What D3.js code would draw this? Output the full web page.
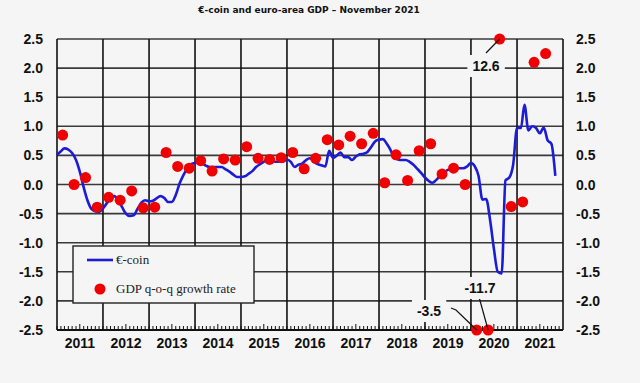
<!DOCTYPE html>
<html>
<head>
<meta charset="utf-8">
<script src="https://cdn.jsdelivr.net/npm/d3@7"></script>
<style>
  html, body { margin: 0; padding: 0; background: #f5f5f5; }
  svg { display: block; }
</style>
</head>
<body>
<div id="chart"></div>
<script>
// €-coin, monthly, from Jan 2011 to Nov 2021
const coinStart = [2011, 0];
const coinValues = [
  0.51, 0.57, 0.62, 0.60, 0.54, 0.42, 0.22, -0.05, -0.28, -0.42, -0.46, -0.47,
  -0.41, -0.32, -0.24, -0.20, -0.27, -0.39, -0.50, -0.54, -0.53, -0.42, -0.31, -0.27,
  -0.29, -0.28, -0.24, -0.20, -0.23, -0.30, -0.30, -0.18, 0.02, 0.16, 0.28, 0.35,
  0.37, 0.40, 0.36, 0.32, 0.30, 0.30, 0.30, 0.30, 0.26, 0.22, 0.17, 0.13,
  0.13, 0.14, 0.18, 0.23, 0.30, 0.35, 0.39, 0.42, 0.41, 0.39, 0.39, 0.39,
  0.43, 0.39, 0.30, 0.34, 0.36, 0.42, 0.45, 0.39, 0.35, 0.33, 0.31, 0.58,
  0.46, 0.50, 0.55, 0.47, 0.47, 0.42, 0.48, 0.52, 0.53, 0.56, 0.65, 0.74,
  0.77, 0.78, 0.71, 0.60, 0.46, 0.43, 0.42, 0.42, 0.39, 0.34, 0.27, 0.20,
  0.12, 0.06, 0.03, 0.08, 0.15, 0.20, 0.25, 0.27, 0.28, 0.28, 0.28, 0.31,
  0.37, 0.31, 0.15, -0.26, -0.25, -0.61, -1.10, -1.50, -1.53, 0.07, 0.12, 0.34,
  0.97, 0.97, 1.37, 0.93, 1.00, 0.97, 0.88, 0.98, 0.76, 0.70, 0.15
];

// GDP q-o-q growth rate, quarterly, from 2011 Q1 to 2021 Q3
const gdpStart = 2011;
const gdpValues = [
  0.85, 0.00, 0.12, -0.39,
  -0.22, -0.27, -0.11, -0.40,
  -0.39, 0.55, 0.31, 0.28,
  0.41, 0.23, 0.44, 0.42,
  0.65, 0.45, 0.43, 0.46,
  0.55, 0.27, 0.45, 0.77,
  0.68, 0.83, 0.70, 0.88,
  0.03, 0.51, 0.07, 0.58,
  0.70, 0.18, 0.28, 0.00,
  -3.5, -11.7, 12.6, -0.38,
  -0.30, 2.10, 2.25
];

const yearLabels = ['2011', '2012', '2013', '2014', '2015', '2016', '2017', '2018', '2019', '2020', '2021'];
const yTicks = [-2.5, -2.0, -1.5, -1.0, -0.5, 0.0, 0.5, 1.0, 1.5, 2.0, 2.5];
const title = '€-coin and euro-area GDP \u2013 November 2021';
const legendLabels = ['€-coin', 'GDP q-o-q growth rate'];

const W = 640, H = 383;
const BG = '#f5f5f5';
const BLUE = '#1c1cd6';
const RED = '#f00000';
const plot = { left: 57, right: 563, top: 39, bottom: 330 };

const svg = d3.select('#chart').append('svg')
  .attr('width', W).attr('height', H)
  .style('background', BG);

const x = d3.scaleTime()
  .domain([new Date(+yearLabels[0], 0, 1), new Date(+yearLabels.at(-1) + 1, 0, 1)])
  .range([plot.left, plot.right]);
const y = d3.scaleLinear()
  .domain([yTicks[0], yTicks.at(-1)])
  .range([plot.bottom, plot.top]);

// plain hyphen for negatives, like the original
const fmt = d3.formatLocale({ decimal: '.', thousands: ',', grouping: [3], currency: ['', ''], minus: '-' }).format('.1f');

// title
svg.append('text')
  .attr('x', 309).attr('y', 13)
  .attr('text-anchor', 'middle')
  .style('font-family', 'DejaVu Sans, Verdana, sans-serif')
  .style('font-weight', 'bold')
  .style('font-size', '9px')
  .style('fill', '#111')
  .text(title);

// grid
const grid = svg.append('g');
grid.selectAll('line.h')
  .data(yTicks)
  .join('line')
  .attr('x1', plot.left).attr('x2', plot.right)
  .attr('y1', d => y(d)).attr('y2', d => y(d))
  .attr('stroke', '#3a3a3a').attr('stroke-width', 1.6);

const yearBounds = d3.range(yearLabels.length + 1).map(i => new Date(+yearLabels[0] + i, 0, 1));
grid.selectAll('line.v')
  .data(yearBounds)
  .join('line')
  .attr('x1', d => x(d)).attr('x2', d => x(d))
  .attr('y1', plot.top).attr('y2', plot.bottom)
  .attr('stroke', '#111').attr('stroke-width', 1.6);

// monthly minor ticks on the bottom axis
const months = d3.timeMonth.range(yearBounds[0], yearBounds.at(-1));
grid.selectAll('line.m')
  .data(months)
  .join('line')
  .attr('x1', d => x(d)).attr('x2', d => x(d))
  .attr('y1', plot.bottom)
  .attr('y2', d => plot.bottom - (d.getMonth() === 6 ? 6 : 4))
  .attr('stroke', '#111').attr('stroke-width', 1);

// frame bottom
grid.append('line')
  .attr('x1', plot.left).attr('x2', plot.right)
  .attr('y1', plot.bottom).attr('y2', plot.bottom)
  .attr('stroke', '#111').attr('stroke-width', 2);

// axis labels
const labelFont = 'Liberation Sans, Arial, sans-serif';
svg.append('g').selectAll('text')
  .data(yTicks)
  .join('text')
  .attr('x', 43).attr('y', d => y(d) + 5)
  .attr('text-anchor', 'end')
  .style('font-family', labelFont).style('font-weight', 'bold').style('font-size', '14px')
  .style('fill', '#111')
  .text(d => fmt(d));
svg.append('g').selectAll('text')
  .data(yTicks)
  .join('text')
  .attr('x', 576).attr('y', d => y(d) + 5)
  .attr('text-anchor', 'start')
  .style('font-family', labelFont).style('font-weight', 'bold').style('font-size', '14px')
  .style('fill', '#111')
  .text(d => fmt(d));
svg.append('g').selectAll('text')
  .data(yearLabels)
  .join('text')
  .attr('x', d => (x(new Date(+d, 0, 1)) + x(new Date(+d + 1, 0, 1))) / 2)
  .attr('y', 348)
  .attr('text-anchor', 'middle')
  .style('font-family', labelFont).style('font-weight', 'bold').style('font-size', '14px')
  .style('fill', '#111')
  .text(d => d);

// €-coin line
const coinData = coinValues.map((v, i) => ({ date: new Date(coinStart[0], coinStart[1] + i, 1), v }));
const line = d3.line()
  .x(d => x(d.date))
  .y(d => y(d.v))
  .curve(d3.curveMonotoneX);
svg.append('path')
  .datum(coinData)
  .attr('d', line)
  .attr('fill', 'none')
  .attr('stroke', BLUE)
  .attr('stroke-width', 2.6)
  .attr('stroke-linejoin', 'round');

// GDP dots (outliers pinned to the frame)
const clampV = v => Math.max(yTicks[0], Math.min(yTicks.at(-1), v));
const gdpData = gdpValues.map((v, i) => {
  const q0 = new Date(gdpStart, i * 3, 1);
  const q1 = new Date(gdpStart, i * 3 + 3, 1);
  return { cx: (x(q0) + x(q1)) / 2, v };
});
svg.append('g').selectAll('circle')
  .data(gdpData)
  .join('circle')
  .attr('cx', d => d.cx)
  .attr('cy', d => y(clampV(d.v)))
  .attr('r', 5.5)
  .attr('fill', RED);

// outlier labels with leader lines
const outliers = gdpData.filter(d => Math.abs(d.v) > yTicks.at(-1));
const notes = [
  { d: outliers[0], lx: 429, ly: 311, leader: p => [[451, 308], [456, 310], [p.x, p.y]] },
  { d: outliers[1], lx: 480, ly: 288, leader: p => [[479, 297], [p.x, p.y]] },
  { d: outliers[2], lx: 486, ly: 66, leader: p => [[486, 53], [p.x, p.y]] },
];
const noteG = svg.append('g');
notes.forEach(n => {
  const p = { x: n.d.cx, y: y(clampV(n.d.v)) };
  noteG.append('path')
    .attr('d', d3.line()(n.leader(p)))
    .attr('fill', 'none').attr('stroke', '#111').attr('stroke-width', 1.2);
  const t = noteG.append('text')
    .attr('x', n.lx).attr('y', n.ly + 5)
    .attr('text-anchor', 'middle')
    .style('font-family', labelFont).style('font-weight', 'bold').style('font-size', '14px')
    .style('fill', '#111')
    .text(fmt(n.d.v));
  const bb = t.node().getBBox();
  noteG.insert('rect', () => t.node())
    .attr('x', bb.x - 5).attr('y', bb.y - 3)
    .attr('width', bb.width + 10).attr('height', bb.height + 6)
    .attr('fill', BG);
});

// legend
const lg = svg.append('g');
lg.append('rect')
  .attr('x', 73).attr('y', 246).attr('width', 181).attr('height', 57)
  .attr('fill', BG).attr('stroke', '#222').attr('stroke-width', 1.4);
lg.append('line')
  .attr('x1', 87).attr('x2', 113).attr('y1', 260).attr('y2', 260)
  .attr('stroke', BLUE).attr('stroke-width', 2.6);
lg.append('circle')
  .attr('cx', 100).attr('cy', 289).attr('r', 5.5).attr('fill', RED);
lg.selectAll('text')
  .data(legendLabels)
  .join('text')
  .attr('x', 116)
  .attr('y', (d, i) => 264 + i * 29)
  .style('font-family', 'Liberation Serif, Times New Roman, serif')
  .style('font-size', '13px')
  .style('fill', '#222')
  .text(d => d);
</script>
</body>
</html>
